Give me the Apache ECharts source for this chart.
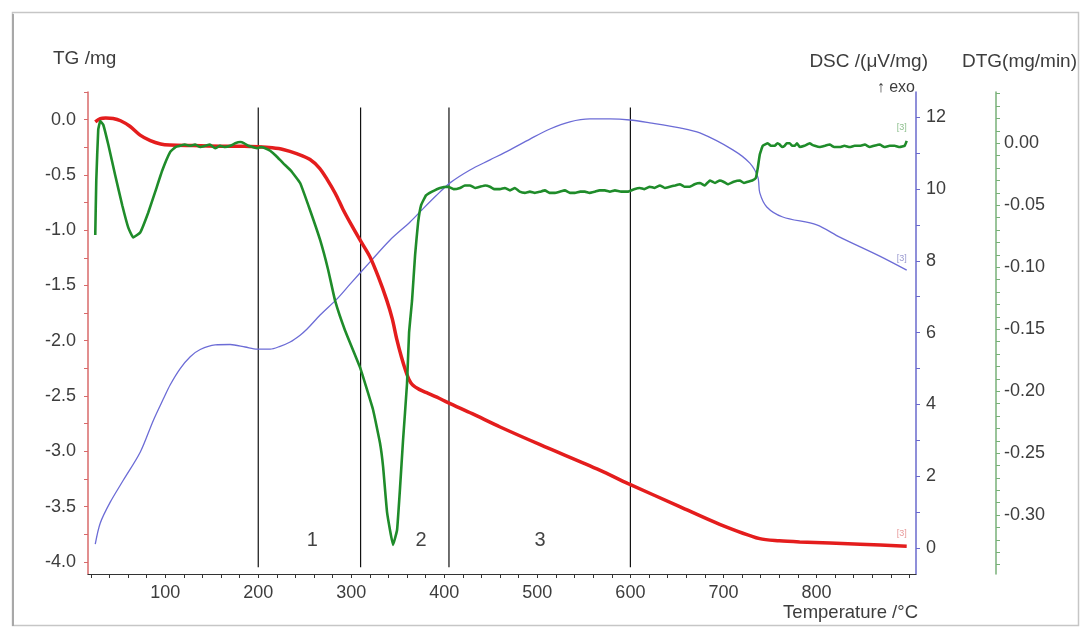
<!DOCTYPE html>
<html><head><meta charset="utf-8">
<script src="https://cdn.jsdelivr.net/npm/echarts@6/dist/echarts.min.js"></script>
<style>html,body{margin:0;padding:0;background:#fff}#c{width:1085px;height:630px}</style>
</head><body><div id="c"></div>
<script>
// ---------- data (temperature °C, value) ----------
const tgData = [[24.8,-0.02],[30.2,0.01],[36,0.015],[44,0.01],[52,-0.01],[62,-0.06],[73,-0.14],[84,-0.19],[95,-0.22],[105,-0.23],[130,-0.235],[160,-0.24],[185,-0.24],[200,-0.245],[215,-0.255],[226.7,-0.27],[242,-0.31],[255.7,-0.36],[266,-0.44],[274,-0.54],[283,-0.67],[291,-0.81],[300,-0.95],[309.5,-1.09],[320,-1.24],[329,-1.42],[338,-1.63],[344,-1.80],[349,-1.99],[354,-2.15],[358,-2.26],[362,-2.35],[366,-2.40],[373,-2.44],[381,-2.47],[392,-2.51],[404,-2.56],[430,-2.66],[460,-2.78],[503,-2.94],[567,-3.17],[597,-3.29],[653,-3.50],[696,-3.66],[739,-3.79],[760,-3.81],[782,-3.82],[847,-3.84],[897,-3.86]];

const dscData = [[24.8,0.11],[30.2,0.70],[40.9,1.28],[54.9,1.89],[73.1,2.67],[87.1,3.55],[97.9,4.15],[105.4,4.55],[116.1,5.0],[126.9,5.33],[137.6,5.53],[153.7,5.66],[169.8,5.67],[185.9,5.60],[198.8,5.54],[212.8,5.54],[223.5,5.62],[234.3,5.74],[245.0,5.93],[252.5,6.10],[266.5,6.49],[284.7,6.94],[298.7,7.35],[320.2,7.97],[341.7,8.58],[363.2,9.08],[376.0,9.42],[391.1,9.81],[406.1,10.17],[427.6,10.53],[449.1,10.81],[470.6,11.09],[492.1,11.39],[513.5,11.67],[535.0,11.87],[556.5,11.95],[578.0,11.95],[599.5,11.92],[620.9,11.84],[653.2,11.70],[674.7,11.56],[710.1,11.09],[728.4,10.72],[737.0,10.33],[739.1,9.89],[746.6,9.50],[763.8,9.22],[800.3,9.00],[825.0,8.66],[868.0,8.13],[897.0,7.74]];

const dtgData = [[24.8,-0.074],[25.9,-0.030],[28.0,0.011],[30.2,0.018],[33.4,0.015],[38.8,-0.001],[46.3,-0.026],[53.8,-0.050],[60.3,-0.068],[65.6,-0.076],[73.1,-0.072],[81.7,-0.056],[89.3,-0.039],[96.8,-0.022],[105.4,-0.007],[111,-0.003],[116.1,-0.002],[121,-0.001],[126.9,-0.002],[132,-0.001],[137.6,-0.003],[143,-0.002],[148,-0.001],[153.7,-0.004],[159,-0.002],[164.4,-0.003],[170,-0.002],[175.2,0.000],[180.6,0.001],[185,0.000],[189.2,-0.002],[194,-0.003],[198.8,-0.004],[203,-0.003],[207.4,-0.004],[212.8,-0.006],[219,-0.010],[226.7,-0.016],[235,-0.022],[245.0,-0.032],[255.7,-0.054],[266.5,-0.078],[275.1,-0.102],[282.6,-0.127],[293.3,-0.151],[309.5,-0.181],[323.4,-0.215],[330.9,-0.242],[334.2,-0.261],[338.5,-0.298],[344.9,-0.324],[349.2,-0.312],[352.4,-0.278],[355.6,-0.240],[359.9,-0.194],[362.1,-0.153],[365.3,-0.127],[368.6,-0.090],[371.8,-0.064],[375.0,-0.050],[380.3,-0.042],[386.8,-0.039],[395.4,-0.036],[404.0,-0.035],[410,-0.037],[416.9,-0.036],[422,-0.034],[427.6,-0.034],[433,-0.036],[438.3,-0.035],[444,-0.034],[449.1,-0.035],[454,-0.037],[459.8,-0.037],[465,-0.036],[470.6,-0.038],[475.9,-0.036],[481,-0.039],[486.7,-0.040],[492,-0.039],[497.4,-0.040],[503,-0.039],[508.2,-0.038],[513,-0.040],[518.9,-0.040],[524,-0.039],[529.6,-0.038],[535,-0.040],[540.4,-0.040],[546,-0.039],[551.1,-0.039],[556,-0.040],[561.9,-0.039],[567,-0.038],[572.6,-0.038],[578,-0.039],[583.4,-0.038],[590,-0.039],[597.3,-0.039],[604,-0.037],[610.2,-0.036],[615,-0.037],[620.9,-0.035],[626,-0.036],[631.7,-0.034],[637,-0.036],[642.4,-0.035],[648,-0.034],[653.2,-0.033],[658,-0.035],[663.9,-0.035],[669,-0.033],[674.7,-0.032],[680,-0.034],[685.4,-0.030],[691,-0.032],[696.1,-0.030],[700,-0.031],[704.7,-0.033],[711,-0.031],[717.6,-0.030],[722,-0.032],[726.2,-0.031],[731,-0.030],[734.8,-0.028],[736.9,-0.020],[739.1,-0.009],[742.3,-0.002],[747.7,0.000],[751,-0.002],[755.2,-0.002],[758,0.000],[760.5,-0.001],[763,-0.003],[765.9,-0.002],[768,0.000],[771.3,0.000],[774,-0.002],[776.6,-0.002],[779,0.000],[782.1,-0.003],[787,-0.002],[792.8,0.000],[795,-0.001],[798.2,-0.002],[803.5,-0.003],[809,-0.002],[814.3,-0.001],[819,-0.003],[825.0,-0.003],[830,-0.002],[835.8,-0.003],[841,-0.002],[846.5,-0.002],[852,-0.001],[857.2,-0.003],[862,-0.002],[868.0,-0.001],[873,-0.003],[878.7,-0.002],[884,-0.002],[889.5,-0.003],[894.8,-0.002],[897.0,0.002]];

const dividerTemps = [200, 310, 405, 600];
const dividerTop = 0.11, dividerBottom = -4.05;
const regionNames = ['1', '2', '3'];
const regionTemps = [258, 375, 503];
const regionLevel = -3.81;

const xTickLabels = [100, 200, 300, 400, 500, 600, 700, 800];
const tgTickLabels = [0, -0.5, -1, -1.5, -2, -2.5, -3, -3.5, -4];
const dscTickLabels = [0, 2, 4, 6, 8, 10, 12];
const dtgTickLabels = [0, -0.05, -0.1, -0.15, -0.2, -0.25, -0.3];
const curveTag = '[3]';

// ---------- minor tick positions ----------
const xMinor = []; for (let t = 20; t <= 900; t += 20) xMinor.push(t);
const tgMinor = []; for (let i = 1; i >= -16; i--) tgMinor.push(i * 0.25);
const dscMinor = []; for (let i = 0; i <= 12; i++) dscMinor.push(i);
const dtgMinor = []; for (let i = 4; i >= -34; i--) dtgMinor.push(i / 100);

const FONT = 'Liberation Sans, Arial, sans-serif';
const LBL = '#3d3d3d';
const RED = '#e41d1d', BLUE = '#6c6cd6', GREEN = '#1f8c2a';

const chart = echarts.init(document.getElementById('c'));

function yAxisBase(color, minorVals, labelVals, fmt, margin) {
  return {
    type: 'value',
    axisLine: { show: true, onZero: false, lineStyle: { color: color, width: 1.5 } },
    axisTick: { show: true, length: 4, customValues: minorVals, lineStyle: { color: color } },
    axisLabel: { customValues: labelVals, formatter: fmt, color: LBL, fontSize: 18, fontFamily: FONT, margin: margin },
    splitLine: { show: false }
  };
}

const series = [];
dividerTemps.forEach(t => series.push({
  type: 'line', yAxisIndex: 0, silent: true, showSymbol: false,
  data: [[t, dividerTop], [t, dividerBottom]],
  lineStyle: { color: '#111', width: 1.2 }, z: 1
}));
series.push({
  type: 'line', yAxisIndex: 1, data: dscData, showSymbol: false, smooth: 0.3,
  lineStyle: { color: BLUE, width: 1.3 }, z: 2
});
series.push({
  type: 'line', yAxisIndex: 0, data: tgData, showSymbol: false, smooth: 0.3,
  lineStyle: { color: RED, width: 3.5 }, z: 3
});
series.push({
  type: 'line', yAxisIndex: 2, data: dtgData, showSymbol: false, smooth: 0.1,
  lineStyle: { color: GREEN, width: 2.6 }, z: 4
});
series.push({
  type: 'scatter', yAxisIndex: 0, symbolSize: 0, silent: true,
  data: regionTemps.map((t, i) => [t, regionLevel, regionNames[i]]),
  label: { show: true, position: 'inside', formatter: p => p.value[2], fontSize: 20, color: '#111', fontFamily: FONT },
  z: 5
});

const option = {
  animation: false,
  backgroundColor: '#fff',
  grid: { left: 88, right: 169, top: 92, bottom: 56, containLabel: false },
  xAxis: {
    type: 'value', min: 17, max: 907,
    axisLine: { show: true, onZero: false, lineStyle: { color: '#333', width: 1.2 } },
    axisTick: { show: true, length: 4, customValues: xMinor, lineStyle: { color: '#333' } },
    axisLabel: { customValues: xTickLabels, color: LBL, fontSize: 18, fontFamily: FONT, margin: 10 },
    splitLine: { show: false }
  },
  yAxis: [
    Object.assign(yAxisBase('#d86a6a', tgMinor, tgTickLabels, v => v.toFixed(1), 12), { position: 'left', min: -4.11, max: 0.25 }),
    Object.assign(yAxisBase('#6a6acc', dscMinor, dscTickLabels, v => String(Math.round(v)), 10), { position: 'right', min: -0.72, max: 12.70 }),
    Object.assign(yAxisBase('#78b078', dtgMinor, dtgTickLabels, v => (Math.abs(v) < 1e-9 ? 0 : v).toFixed(2), 8), { position: 'right', offset: 80, min: -0.3475, max: 0.0414 })
  ],
  series: series,
  graphic: [
    { type: 'rect', silent: true, shape: { x: 12.5, y: 12.5, width: 1066, height: 613 }, style: { fill: 'none', stroke: '#c6c6c6', lineWidth: 1.5 } },
    { type: 'rect', silent: true, shape: { x: 12, y: 14, width: 2, height: 612 }, style: { fill: '#a8a8a8' } },
    { type: 'text', x: 53, y: 59, style: { text: 'TG /mg', font: '19px ' + FONT, fill: LBL, align: 'left', verticalAlign: 'middle' } },
    { type: 'text', x: 928, y: 62, style: { text: 'DSC /(μV/mg)', font: '19px ' + FONT, fill: LBL, align: 'right', verticalAlign: 'middle' } },
    { type: 'text', x: 1077, y: 62, style: { text: 'DTG(mg/min)', font: '19px ' + FONT, fill: LBL, align: 'right', verticalAlign: 'middle' } },
    { type: 'text', x: 915, y: 88, style: { text: '↑ exo', font: '16px ' + FONT, fill: LBL, align: 'right', verticalAlign: 'middle' } },
    { type: 'text', x: 918, y: 613, style: { text: 'Temperature /°C', font: '18.5px ' + FONT, fill: LBL, align: 'right', verticalAlign: 'middle' } }
  ]
};
chart.setOption(option);

// small "[3]" tags near the end of each curve, placed from the data
const tags = [
  { data: tgData, axis: 0, color: '#e89a9a', dy: -13 },
  { data: dscData, axis: 1, color: '#9a9ad0', dy: -12 },
  { data: dtgData, axis: 2, color: '#8fc08f', dy: -13 }
];
const extra = tags.map(tg => {
  const last = tg.data[tg.data.length - 1];
  const p = chart.convertToPixel({ xAxisIndex: 0, yAxisIndex: tg.axis }, last);
  return { type: 'text', x: p[0] - 5, y: p[1] + tg.dy, silent: true,
    style: { text: curveTag, font: '9px ' + FONT, fill: tg.color, align: 'center', verticalAlign: 'middle' } };
});
chart.setOption({ graphic: option.graphic.concat(extra) });
</script>
</body></html>
